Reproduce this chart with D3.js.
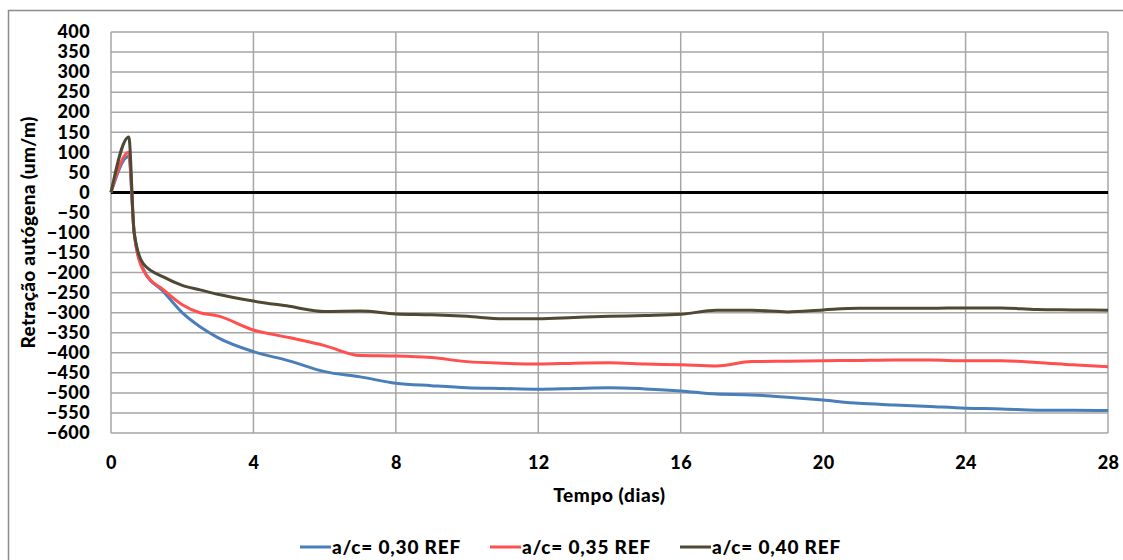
<!DOCTYPE html>
<html>
<head>
<meta charset="utf-8">
<script src="https://cdn.jsdelivr.net/npm/d3@7"></script>
<style>
  body { margin: 0; background: #fff; }
  svg { display: block; font-family: Lato, "Open Sans", sans-serif; font-weight: bold; }
</style>
</head>
<body>
<svg width="1123" height="560"></svg>
<script>
// time in days
const days = [0, 0.5, 0.65, 0.9, 1.5, 2, 2.5, 3, 4, 5, 6, 7, 8, 9, 10, 11, 12, 13, 14, 15, 16, 17, 18, 19, 20, 21, 22, 23, 24, 25, 26, 27, 28]

// autogenous shrinkage (um/m)
const ac030 = [0, 90, -100, -190, -250, -300, -335, -362, -397, -420, -447, -460, -476, -482, -487, -489, -491, -489, -487, -490, -495, -503, -505, -511, -518, -526, -530, -534, -538, -540, -543, -543, -544]
const ac035 = [0, 100, -100, -193, -245, -280, -300, -308, -343, -362, -382, -407, -408, -412, -422, -426, -428, -426, -425, -428, -430, -433, -422, -421, -420, -419, -418, -418, -420, -420, -424, -430, -435]
const ac040 = [0, 138, -100, -177, -212, -232, -243, -254, -271, -284, -297, -296, -303, -305, -309, -315, -315, -312, -309, -307, -304, -294, -294, -298, -293, -289, -289, -289, -288, -288, -292, -293, -294]

const seriesNames = ["a/c= 0,30 REF", "a/c= 0,35 REF", "a/c= 0,40 REF"]
const seriesColors = ["#4a7ebb", "#ff4f4f", "#4d4933"]
const xTicks = [0, 4, 8, 12, 16, 20, 24, 28]
const yTicks = d3.range(-600, 401, 50)

const series = [ac030, ac035, ac040].map((vals, i) => ({
  name: seriesNames[i],
  color: seriesColors[i],
  values: vals.map((v, j) => ({x: days[j], y: v}))
}))

const svg = d3.select("svg")
const plotLeft = 111, plotRight = 1108, plotTop = 32, plotBottom = 433

const x = d3.scaleLinear().domain([0, 28]).range([plotLeft, plotRight])
const y = d3.scaleLinear().domain([-600, 400]).range([plotBottom, plotTop])

// outer chart border
svg.append("rect")
  .attr("x", 8.5).attr("y", 10.5)
  .attr("width", 1200).attr("height", 700)
  .attr("fill", "none")
  .attr("stroke", "#8c8c8c")
  .attr("stroke-width", 1.5)

// grid
const grid = svg.append("g").attr("stroke", "#a6a6a6").attr("stroke-width", 1.5)
grid.selectAll("line.h")
  .data(yTicks)
  .enter().append("line")
  .attr("x1", plotLeft).attr("x2", plotRight)
  .attr("y1", d => y(d)).attr("y2", d => y(d))
grid.selectAll("line.v")
  .data(xTicks)
  .enter().append("line")
  .attr("y1", plotTop).attr("y2", plotBottom)
  .attr("x1", d => x(d)).attr("x2", d => x(d))

// zero line
svg.append("line")
  .attr("x1", plotLeft).attr("x2", plotRight)
  .attr("y1", y(0)).attr("y2", y(0))
  .attr("stroke", "#000").attr("stroke-width", 3)

// axes (labels only)
const yAxis = svg.append("g")
  .attr("transform", `translate(${plotLeft - 21},0)`)
  .call(d3.axisLeft(y).tickValues(yTicks).tickSize(0).tickPadding(0))
const xAxis = svg.append("g")
  .attr("transform", `translate(0,${plotBottom + 23})`)
  .call(d3.axisBottom(x).tickValues(xTicks).tickSize(0).tickPadding(0))
;[yAxis, xAxis].forEach(ax => {
  ax.select(".domain").remove()
  ax.selectAll("text")
    .attr("fill", "#000")
    .style("font-family", "Lato, 'Open Sans', sans-serif")
    .style("font-weight", "900")
    .style("font-size", "18px")
    .style("letter-spacing", "0.4px")
})

// lines
const line = d3.line()
  .x(d => x(d.x))
  .y(d => y(d.y))
  .curve(d3.curveMonotoneX)

svg.append("g")
  .selectAll("path")
  .data(series)
  .enter().append("path")
  .attr("d", d => line(d.values))
  .attr("fill", "none")
  .attr("stroke", d => d.color)
  .attr("stroke-width", 3)

// axis titles
svg.append("text")
  .attr("x", (plotLeft + plotRight) / 2)
  .attr("y", 502)
  .attr("text-anchor", "middle")
  .attr("font-size", 19)
  .attr("font-weight", 900)
  .attr("letter-spacing", 0.6)
  .text("Tempo (dias)")

svg.append("text")
  .attr("transform", `translate(35,${(plotTop + plotBottom) / 2}) rotate(-90)`)
  .attr("text-anchor", "middle")
  .attr("font-size", 19)
  .attr("font-weight", 900)
  .attr("letter-spacing", 0.3)
  .text("Retração autógena (um/m)")

// legend
const legendX = [300, 490, 680]
const legend = svg.append("g")
  .selectAll("g")
  .data(series)
  .enter().append("g")
  .attr("transform", (d, i) => `translate(${legendX[i]},547)`)
legend.append("line")
  .attr("x1", 0).attr("x2", 31)
  .attr("stroke", d => d.color)
  .attr("stroke-width", 3)
legend.append("text")
  .attr("x", 32)
  .attr("dy", "0.36em")
  .attr("font-size", 19)
  .attr("font-weight", 900)
  .attr("letter-spacing", 0.8)
  .text(d => d.name)
</script>
</body>
</html>
